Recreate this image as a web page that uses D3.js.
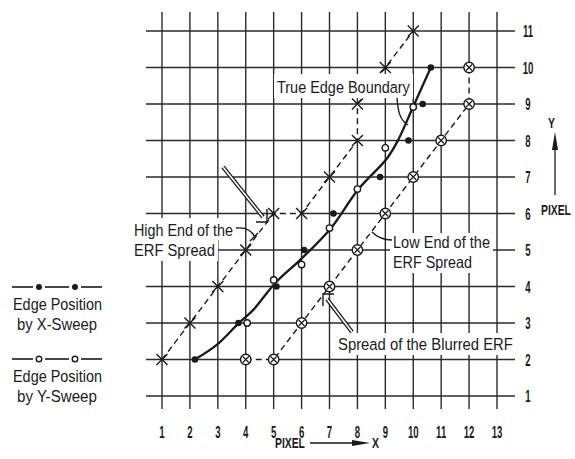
<!DOCTYPE html>
<html><head><meta charset="utf-8">
<script src="https://cdn.jsdelivr.net/npm/d3@7"></script>
<style>
html,body{margin:0;padding:0;background:#fff;}
svg{display:block;font-family:"Liberation Sans",Arial,sans-serif;}
</style></head>
<body><svg id="c" width="575" height="459"></svg>
<script>
// ---- data ----
const xTicks = [1,2,3,4,5,6,7,8,9,10,11,12,13];
const yTicks = [1,2,3,4,5,6,7,8,9,10,11];
// High end of the ERF spread (X marks)
const highEnd = [[1,2],[2,3],[3,4],[4,5],[5,6],[6,6],[7,7],[8,8],[8,9],[9,10],[10,11]];
// Low end of the ERF spread (circled X marks)
const lowEnd = [[4,2],[5,2],[6,3],[7,4],[8,5],[9,6],[10,7],[11,8],[12,9],[12,10]];
// Edge position by X-sweep (filled dots)
const xSweep = [[2.18,2],[3.74,3],[5.1,4],[6.09,5],[7.14,6],[8.81,7],[9.83,8],[10.34,9],[10.63,10]];
// Edge position by Y-sweep (open dots)
const ySweep = [[4.05,3],[5.0,4.18],[6.0,4.6],[7.0,5.6],[8.0,6.67],[9.0,7.8],[10.0,8.92]];
// True edge boundary (solid curve)
const boundary = [[2.18,2.0],[2.96,2.4],[3.74,2.99],[4.27,3.36],[5.05,4.09],[5.95,4.73],[7.02,5.57],[8.04,6.67],[9.05,7.5],[9.45,8.0],[10.0,8.93],[10.63,10.0]];

const svg = d3.select("#c");
const x = d3.scaleLinear().domain([1,13]).range([162,497]);
const y = d3.scaleLinear().domain([1,11]).range([396,31]);
const ink = "#1a1a1a";

// text squeezed horizontally to a target width (keeps real text)
function fitText(g, txt, x0, base, w, size, bold){
  const t = g.append("text").attr("font-size",size).attr("fill",ink).text(txt);
  if(bold) t.attr("font-weight","bold");
  const len = t.node().getComputedTextLength();
  t.attr("transform",`translate(${x0},${base}) scale(${w/len},1)`);
  return t;
}

// ---- grid ----
const grid = svg.append("g").attr("stroke","#2a2a2a").attr("stroke-width",1.4);
grid.selectAll("line.v").data(xTicks).join("line").attr("class","v")
  .attr("x1",d=>x(d)).attr("x2",d=>x(d)).attr("y1",12).attr("y2",409);
grid.selectAll("line.h").data(yTicks).join("line").attr("class","h")
  .attr("y1",d=>y(d)).attr("y2",d=>y(d)).attr("x1",146).attr("x2",515);

// tick labels (condensed)
const tickFont = 16, sx = 0.6;
svg.append("g").selectAll("text").data(xTicks).join("text")
  .attr("transform",d=>`translate(${x(d)},438) scale(${sx},1)`)
  .attr("text-anchor","middle").attr("font-size",tickFont).attr("font-weight","bold").attr("fill",ink).text(d=>d);
svg.append("g").selectAll("text").data(yTicks).join("text")
  .attr("transform",d=>`translate(528,${y(d)+6}) scale(${sx},1)`)
  .attr("text-anchor","middle").attr("font-size",tickFont).attr("font-weight","bold").attr("fill",ink).text(d=>d);

// axis titles
const titles = svg.append("g");
fitText(titles,"PIXEL",275,448,30,15,true);
svg.append("line").attr("x1",310).attr("x2",356).attr("y1",443).attr("y2",443).attr("stroke",ink).attr("stroke-width",1.3);
svg.append("path").attr("d","M352,440 L370,443 L352,446 Z").attr("fill",ink);
fitText(titles,"X",372,448,7,15,true);
fitText(titles,"Y",548,128,7,15,true);
svg.append("line").attr("x1",555).attr("x2",555).attr("y1",195).attr("y2",145).attr("stroke",ink).attr("stroke-width",1.3);
svg.append("path").attr("d","M552,150 L555,132 L558,150 Z").attr("fill",ink);
fitText(titles,"PIXEL",541,215,30,15,true);

// ---- dashed spread lines ----
const line = d3.line().x(d=>x(d[0])).y(d=>y(d[1]));
function axisAligned(arr){
  const segs=[];
  for(let i=1;i<arr.length;i++){ if(arr[i][0]===arr[i-1][0]||arr[i][1]===arr[i-1][1]) segs.push([arr[i-1],arr[i]]); }
  return segs;
}
[highEnd,lowEnd].forEach(arr=>{
  svg.append("g").selectAll("path").data(axisAligned(arr)).join("path")
    .attr("d",line).attr("stroke","#fff").attr("stroke-width",3).attr("fill","none");
  svg.append("path").datum(arr).attr("d",line).attr("fill","none")
    .attr("stroke",ink).attr("stroke-width",1.4).attr("stroke-dasharray","6,4");
});

// ---- label backgrounds (white boxes hiding grid) ----
const boxes = [[274,74,139,24],[131,218,106,22],[131,240,87,21],[390,233,103,20],[390,253,85,20],[335,333,181,22]];
svg.append("g").selectAll("rect").data(boxes).join("rect")
  .attr("x",d=>d[0]).attr("y",d=>d[1]).attr("width",d=>d[2]).attr("height",d=>d[3]).attr("fill","#fff");

// ---- true edge curve ----
svg.append("path").datum(boundary)
  .attr("d",d3.line().x(d=>x(d[0])).y(d=>y(d[1])).curve(d3.curveCatmullRom.alpha(0.5)))
  .attr("fill","none").attr("stroke",ink).attr("stroke-width",2.3);

// ---- markers ----
const cross = 5.5;
svg.append("g").selectAll("path").data(highEnd).join("path")
  .attr("d",d=>{const cx=x(d[0]),cy=y(d[1]);return `M${cx-cross},${cy-cross}L${cx+cross},${cy+cross}M${cx-cross},${cy+cross}L${cx+cross},${cy-cross}`;})
  .attr("stroke",ink).attr("stroke-width",1.4);
const lg = svg.append("g").selectAll("g").data(lowEnd).join("g")
  .attr("transform",d=>`translate(${x(d[0])},${y(d[1])})`);
lg.append("circle").attr("r",5.2).attr("fill","#fff").attr("stroke",ink).attr("stroke-width",1.4);
lg.append("path").attr("d","M-3,-3L3,3M-3,3L3,-3").attr("stroke",ink).attr("stroke-width",1.2);

svg.append("g").selectAll("circle").data(xSweep).join("circle")
  .attr("cx",d=>x(d[0])).attr("cy",d=>y(d[1])).attr("r",3.3).attr("fill",ink);
svg.append("g").selectAll("circle").data(ySweep).join("circle")
  .attr("cx",d=>x(d[0])).attr("cy",d=>y(d[1])).attr("r",3.2).attr("fill","#fff").attr("stroke",ink).attr("stroke-width",1.4);

// ---- annotation texts ----
const labels = svg.append("g");
fitText(labels,"True Edge Boundary",277,93,133,16.5);
fitText(labels,"High End of the",134,236,99,16.5);
fitText(labels,"ERF Spread",134,256,81,16.5);
fitText(labels,"Low End of the",393,248,97,16.5);
fitText(labels,"ERF Spread",393,268,79,16.5);
fitText(labels,"Spread of the Blurred ERF",338,350,175,16.5);

// leaders
const lead = svg.append("g").attr("fill","none").attr("stroke",ink).attr("stroke-width",1.4);
lead.append("path").attr("d","M397,98 C398,112 400,120 408,125");
lead.append("path").attr("d","M236,228 C246,227 252,231 255,237");
lead.append("path").attr("d","M250,241 L258,233");
lead.append("path").attr("d","M392,240 C383,240 377,237 372,232");

// hollow arrows
function hollow(x1,y1,x2,y2){
  svg.append("line").attr("x1",x1).attr("y1",y1).attr("x2",x2).attr("y2",y2).attr("stroke",ink).attr("stroke-width",4.2);
  svg.append("line").attr("x1",x1).attr("y1",y1).attr("x2",x2).attr("y2",y2).attr("stroke","#fff").attr("stroke-width",1.6);
}
hollow(223,167,263,217);
lead.append("path").attr("d","M267,209 L267,222 L256,222");
hollow(352,332,327,299);
lead.append("path").attr("d","M334,294 L323,294 L323,306");

// ---- legend ----
const leg = svg.append("g");
function legendRow(yy,filled){
  [[12,33],[45,69],[81,102]].forEach(s=>leg.append("line").attr("x1",s[0]).attr("x2",s[1]).attr("y1",yy).attr("y2",yy).attr("stroke",ink).attr("stroke-width",1.6));
  [39,75].forEach(cx=>leg.append("circle").attr("cx",cx).attr("cy",yy).attr("r",filled?3:2.8)
    .attr("fill",filled?ink:"#fff").attr("stroke",ink).attr("stroke-width",filled?0:1.4));
}
legendRow(287,true);
legendRow(359,false);
fitText(leg,"Edge Position",13,310,89,16.5);
fitText(leg,"by X-Sweep",17,330,80,16.5);
fitText(leg,"Edge Position",13,382,89,16.5);
fitText(leg,"by Y-Sweep",17,402,80,16.5);
</script></body></html>
